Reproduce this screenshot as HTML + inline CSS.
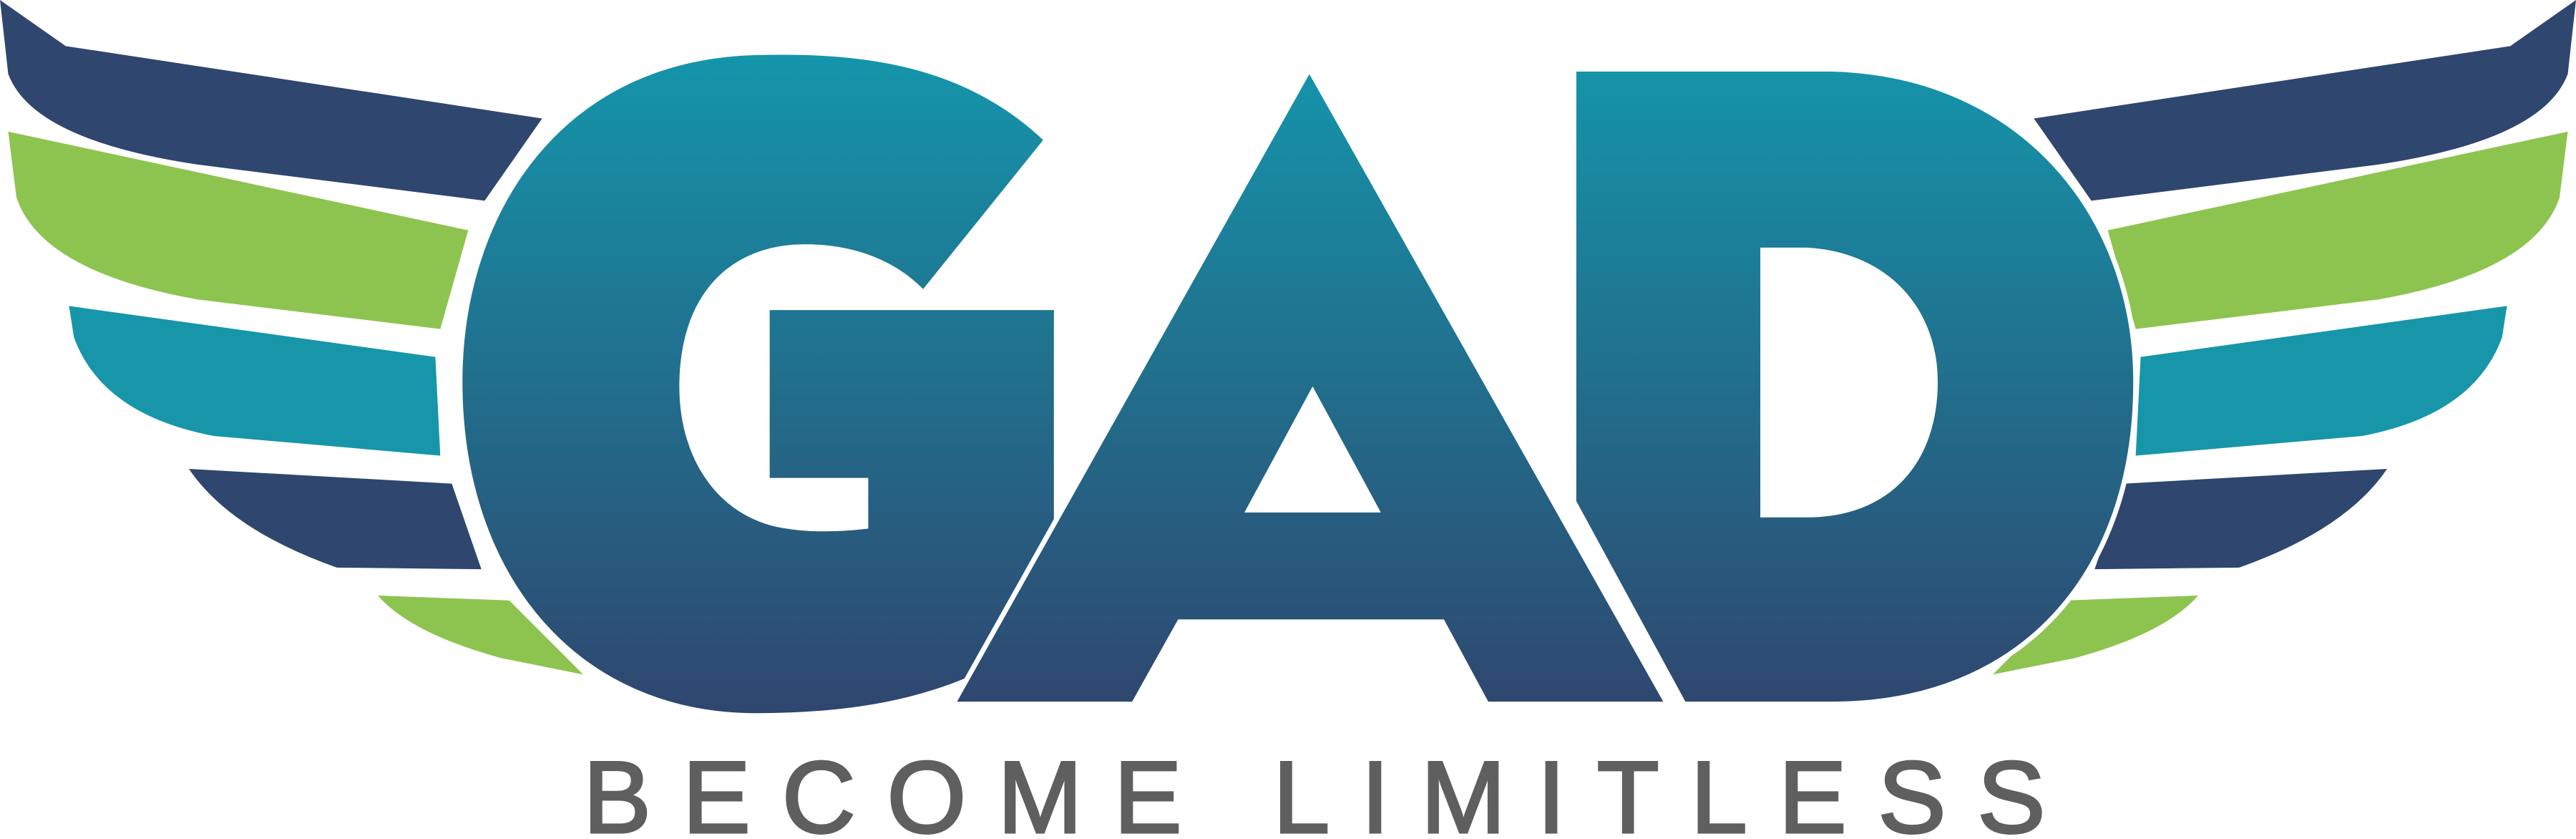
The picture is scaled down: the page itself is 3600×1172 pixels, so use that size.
<!DOCTYPE html>
<html><head><meta charset="utf-8"><style>
html,body{margin:0;padding:0;background:#fff}
svg{display:block}
</style></head><body>
<svg width="3600" height="1172" viewBox="0 0 1568 510" preserveAspectRatio="none" xmlns="http://www.w3.org/2000/svg">
<defs>
<linearGradient id="g2" x1="0" y1="30" x2="0" y2="435" gradientUnits="userSpaceOnUse">
<stop offset="0" stop-color="#1496ab"/><stop offset="1" stop-color="#2f466e"/>
</linearGradient>
</defs>
<g>
<path fill="#2f466e" d="M0,0 L40,28 L330,72 L295,122 L120,100 Q20,85 5,45 Z"/>
<path fill="#8dc44f" d="M5,80 L285,140 L268,200 L120,182 Q25,165 10,120 Z"/>
<path fill="#1796a9" d="M42,186 L265,217 L268,277 L130,265 Q62,252 45,205 Z"/>
<path fill="#2f466e" d="M115,285 L275,294 L293,346 L205,345 Q140,322 115,285 Z"/>
<path fill="#8dc44f" d="M230,362 L310,365 L355,410 L305,400 Q250,385 230,362 Z"/>
</g>
<g transform="translate(1568,0) scale(-1,1)">
<path fill="#2f466e" d="M0,0 L40,28 L330,72 L295,122 L120,100 Q20,85 5,45 Z"/>
<path fill="#8dc44f" d="M5,80 L285,140 L268,200 L120,182 Q25,165 10,120 Z"/>
<path fill="#1796a9" d="M42,186 L265,217 L268,277 L130,265 Q62,252 45,205 Z"/>
<path fill="#2f466e" d="M115,285 L275,294 L293,346 L205,345 Q140,322 115,285 Z"/>
<path fill="#8dc44f" d="M230,362 L310,365 L355,410 L305,400 Q250,385 230,362 Z"/>
</g>
<path fill="url(#g2)" stroke="#fff" stroke-width="3" d="M637,85 C590,40 530,30 460,32 C340,35 280,130 280,232 C280,350 350,435 460,435 C560,435 600,410 643,385 L643,187 L467,187 L467,292 L527,292 L527,320 C510,322 492,322 480,320 C440,315 415,280 415,235 C415,180 445,150 490,150 C520,150 545,160 562,178 Z"/>
<path fill="url(#g2)" fill-rule="evenodd" stroke="#fff" stroke-width="3" d="M797,42 L1015,428 L905,428 L878,378 L718,378 L690,428 L580,428 Z M799,238 L760,310 L838,310 Z"/>
<path fill="url(#g2)" fill-rule="evenodd" stroke="#fff" stroke-width="3" d="M958,42 L1115,42 C1230,45 1300,130 1300,232 C1300,350 1230,428 1115,428 L1025,428 L958,305 Z M1073,152 L1100,152 C1150,155 1178,190 1178,232 C1178,280 1150,313 1100,313 L1073,313 Z"/>
<text x="355" y="506" style="font-family:'Liberation Sans',sans-serif;font-size:62px" fill="#5f5f5f" stroke="#5f5f5f" stroke-width="1.5" textLength="890" lengthAdjust="spacing">BECOME LIMITLESS</text>
</svg>
</body></html>
